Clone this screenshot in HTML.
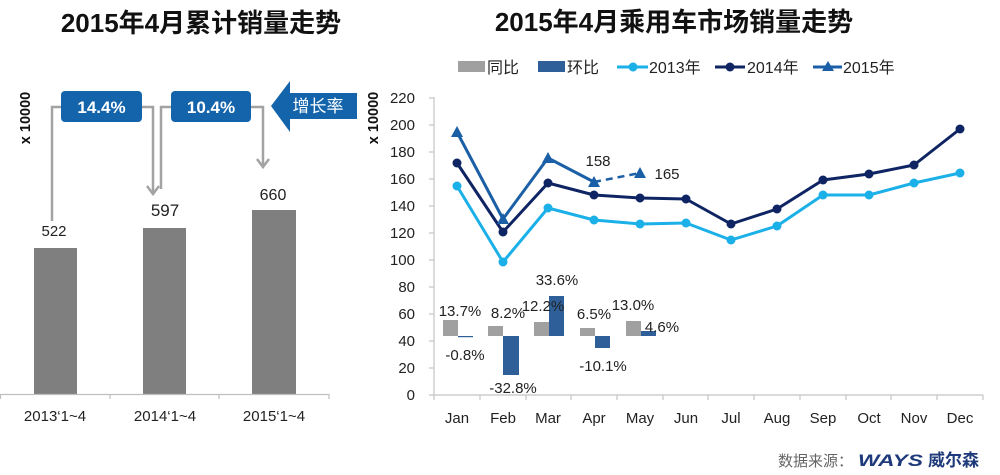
<!DOCTYPE html>
<html><head><meta charset="utf-8"><style>
html,body{margin:0;padding:0;background:#fff;}
svg{display:block;}
text{font-family:"Liberation Sans","Noto Sans CJK SC",sans-serif;}
</style></head><body>
<svg width="1000" height="475" viewBox="0 0 1000 475" xmlns="http://www.w3.org/2000/svg">
<rect width="1000" height="475" fill="#fff"/>
<!-- Titles -->
<text x="201" y="32" font-size="26" font-weight="bold" text-anchor="middle" fill="#111">2015年4月累计销量走势</text>
<text x="674" y="31" font-size="26" font-weight="bold" text-anchor="middle" fill="#111">2015年4月乘用车市场销量走势</text>

<!-- LEFT CHART -->
<text transform="translate(30,118) rotate(-90)" font-size="14.5" font-weight="bold" text-anchor="middle" fill="#111">x 10000</text>
<rect x="34" y="248" width="43" height="146" fill="#7f7f7f"/>
<rect x="143" y="228" width="43" height="166" fill="#7f7f7f"/>
<rect x="252" y="210" width="44" height="184" fill="#7f7f7f"/>
<g stroke="#bfbfbf" stroke-width="1.2" fill="none">
<line x1="0" y1="394.5" x2="329" y2="394.5"/>
<line x1="0.5" y1="394" x2="0.5" y2="399"/>
<line x1="110" y1="394" x2="110" y2="399"/>
<line x1="219" y1="394" x2="219" y2="399"/>
<line x1="329" y1="394" x2="329" y2="399"/>
</g>
<g font-size="15" text-anchor="middle" fill="#222">
<text x="55" y="421">2013‘1~4</text>
<text x="165" y="421">2014‘1~4</text>
<text x="274" y="421">2015‘1~4</text>
</g>
<text x="54" y="236" font-size="15" text-anchor="middle" fill="#222">522</text>
<text x="165" y="216" font-size="17" text-anchor="middle" fill="#222">597</text>
<text x="273" y="200" font-size="16" text-anchor="middle" fill="#222">660</text>

<!-- connectors -->
<g stroke="#a3a3a3" stroke-width="2.5" fill="none">
<polyline points="61,107 52,107 52,221"/>
<polyline points="142,107 153,107 153,194"/>
<polyline points="147,186 153,194 159,186"/>
<polyline points="171,107 161,107 161,189"/>
<polyline points="251,107 263,107 263,167"/>
<polyline points="257,159 263,167 269,159"/>
</g>
<rect x="61" y="91" width="81" height="31" rx="4" fill="#1464ac"/>
<rect x="171" y="91" width="80" height="31" rx="4" fill="#1464ac"/>
<text x="101.5" y="113" font-size="17" font-weight="bold" text-anchor="middle" fill="#fff">14.4%</text>
<text x="211" y="113" font-size="17" font-weight="bold" text-anchor="middle" fill="#fff">10.4%</text>
<polygon points="271,106 290,81 290,93 357,93 357,119 290,119 290,132" fill="#1464ac"/>
<text x="318" y="112" font-size="17" text-anchor="middle" fill="#fff">增长率</text>

<!-- RIGHT CHART -->
<text transform="translate(378,118) rotate(-90)" font-size="14.5" font-weight="bold" text-anchor="middle" fill="#111">x 10000</text>
<!-- legend -->
<rect x="458" y="61" width="27" height="11" fill="#a0a0a0"/>
<text x="487" y="73" font-size="16" fill="#222">同比</text>
<rect x="538" y="61" width="27" height="11" fill="#2f5f98"/>
<text x="567" y="73" font-size="16" fill="#222">环比</text>
<line x1="617" y1="67" x2="648" y2="67" stroke="#1cb0e8" stroke-width="3"/>
<circle cx="633" cy="67" r="4.5" fill="#1cb0e8"/>
<text x="649" y="73" font-size="16" fill="#222">2013年</text>
<line x1="715" y1="67" x2="745" y2="67" stroke="#0f2563" stroke-width="3"/>
<circle cx="730" cy="67" r="4.5" fill="#0f2563"/>
<text x="747" y="73" font-size="16" fill="#222">2014年</text>
<line x1="813" y1="67" x2="842" y2="67" stroke="#1b5fa6" stroke-width="3"/>
<polygon points="828,61 834,71 822,71" fill="#1b5fa6"/>
<text x="843" y="73" font-size="16" fill="#222">2015年</text>

<!-- axes -->
<g stroke="#c4c4c4" stroke-width="1.2" fill="none">
<line x1="434" y1="97" x2="434" y2="395"/>
<line x1="429" y1="98" x2="434" y2="98"/>
<line x1="429" y1="125" x2="434" y2="125"/>
<line x1="429" y1="152" x2="434" y2="152"/>
<line x1="429" y1="179" x2="434" y2="179"/>
<line x1="429" y1="206" x2="434" y2="206"/>
<line x1="429" y1="233" x2="434" y2="233"/>
<line x1="429" y1="260" x2="434" y2="260"/>
<line x1="429" y1="287" x2="434" y2="287"/>
<line x1="429" y1="314" x2="434" y2="314"/>
<line x1="429" y1="341" x2="434" y2="341"/>
<line x1="429" y1="368" x2="434" y2="368"/>
<line x1="429" y1="395" x2="983" y2="395"/>
<line x1="434" y1="395" x2="434" y2="400"/>
<line x1="480" y1="395" x2="480" y2="400"/>
<line x1="526" y1="395" x2="526" y2="400"/>
<line x1="571" y1="395" x2="571" y2="400"/>
<line x1="617" y1="395" x2="617" y2="400"/>
<line x1="663" y1="395" x2="663" y2="400"/>
<line x1="708" y1="395" x2="708" y2="400"/>
<line x1="754" y1="395" x2="754" y2="400"/>
<line x1="800" y1="395" x2="800" y2="400"/>
<line x1="846" y1="395" x2="846" y2="400"/>
<line x1="891" y1="395" x2="891" y2="400"/>
<line x1="937" y1="395" x2="937" y2="400"/>
<line x1="983" y1="395" x2="983" y2="400"/>
</g>
<g font-size="15" text-anchor="end" fill="#222">
<text x="415" y="103">220</text>
<text x="415" y="130">200</text>
<text x="415" y="157">180</text>
<text x="415" y="184">160</text>
<text x="415" y="211">140</text>
<text x="415" y="238">120</text>
<text x="415" y="265">100</text>
<text x="415" y="292">80</text>
<text x="415" y="319">60</text>
<text x="415" y="346">40</text>
<text x="415" y="373">20</text>
<text x="415" y="400">0</text>
</g>
<g font-size="15" text-anchor="middle" fill="#222">
<text x="457" y="423">Jan</text>
<text x="503" y="423">Feb</text>
<text x="548" y="423">Mar</text>
<text x="594" y="423">Apr</text>
<text x="640" y="423">May</text>
<text x="686" y="423">Jun</text>
<text x="731" y="423">Jul</text>
<text x="777" y="423">Aug</text>
<text x="823" y="423">Sep</text>
<text x="869" y="423">Oct</text>
<text x="914" y="423">Nov</text>
<text x="960" y="423">Dec</text>
</g>

<!-- bars -->
<g fill="#a0a0a0">
<rect x="443" y="320" width="15" height="16"/>
<rect x="488" y="326" width="15" height="10"/>
<rect x="534" y="322" width="15" height="14"/>
<rect x="580" y="328" width="15" height="8"/>
<rect x="626" y="321" width="15" height="15"/>
</g>
<g fill="#2f5f98">
<rect x="458" y="336" width="15" height="1.2"/>
<rect x="503" y="336" width="16" height="39"/>
<rect x="549" y="296" width="15" height="40"/>
<rect x="595" y="336" width="15" height="12"/>
<rect x="641" y="331" width="15" height="5"/>
</g>
<g font-size="15" text-anchor="middle" fill="#222">
<text x="460" y="316">13.7%</text>
<text x="465" y="360">-0.8%</text>
<text x="508" y="318">8.2%</text>
<text x="513" y="393">-32.8%</text>
<text x="557" y="285">33.6%</text>
<text x="543" y="311">12.2%</text>
<text x="594" y="319">6.5%</text>
<text x="603" y="371">-10.1%</text>
<text x="633" y="310">13.0%</text>
<text x="662" y="332">4.6%</text>
</g>

<!-- 2013 line -->
<polyline fill="none" stroke="#1cb0e8" stroke-width="3" stroke-linejoin="round" points="457,186 503,262 548,208 594,220 640,224 686,223 731,240 777,226 823,195 869,195 914,183 960,173"/>
<g fill="#1cb0e8">
<circle cx="457" cy="186" r="4.5"/><circle cx="503" cy="262" r="4.5"/><circle cx="548" cy="208" r="4.5"/><circle cx="594" cy="220" r="4.5"/><circle cx="640" cy="224" r="4.5"/><circle cx="686" cy="223" r="4.5"/><circle cx="731" cy="240" r="4.5"/><circle cx="777" cy="226" r="4.5"/><circle cx="823" cy="195" r="4.5"/><circle cx="869" cy="195" r="4.5"/><circle cx="914" cy="183" r="4.5"/><circle cx="960" cy="173" r="4.5"/>
</g>
<!-- 2014 line -->
<polyline fill="none" stroke="#0f2563" stroke-width="3" stroke-linejoin="round" points="457,163 503,232 548,183 594,195 640,198 686,199 731,224 777,209 823,180 869,174 914,165 960,129"/>
<g fill="#0f2563">
<circle cx="457" cy="163" r="4.5"/><circle cx="503" cy="232" r="4.5"/><circle cx="548" cy="183" r="4.5"/><circle cx="594" cy="195" r="4.5"/><circle cx="640" cy="198" r="4.5"/><circle cx="686" cy="199" r="4.5"/><circle cx="731" cy="224" r="4.5"/><circle cx="777" cy="209" r="4.5"/><circle cx="823" cy="180" r="4.5"/><circle cx="869" cy="174" r="4.5"/><circle cx="914" cy="165" r="4.5"/><circle cx="960" cy="129" r="4.5"/>
</g>
<!-- 2015 line -->
<polyline fill="none" stroke="#1b5fa6" stroke-width="3" stroke-linejoin="round" points="457,132 503,219 548,158 594,182"/>
<line x1="594" y1="182" x2="640" y2="173" stroke="#1b5fa6" stroke-width="2.5" stroke-dasharray="7,5"/>
<g fill="#1b5fa6">
<polygon points="457,126 463,137 451,137"/>
<polygon points="503,213 509,224 497,224"/>
<polygon points="548,152 554,163 542,163"/>
<polygon points="594,176 600,187 588,187"/>
<polygon points="640,167 646,178 634,178"/>
</g>
<text x="598" y="166" font-size="15" text-anchor="middle" fill="#222">158</text>
<text x="667" y="179" font-size="15" text-anchor="middle" fill="#222">165</text>

<!-- footer -->
<text x="778" y="466" font-size="15" fill="#666">数据来源：</text>
<text x="858" y="466" font-size="17" font-weight="bold" font-style="italic" fill="#1f3a7a" textLength="65" lengthAdjust="spacingAndGlyphs">WAYS</text>
<text x="928" y="466" font-size="17" font-weight="bold" fill="#1f3a7a">威尔森</text>
</svg>
</body></html>
